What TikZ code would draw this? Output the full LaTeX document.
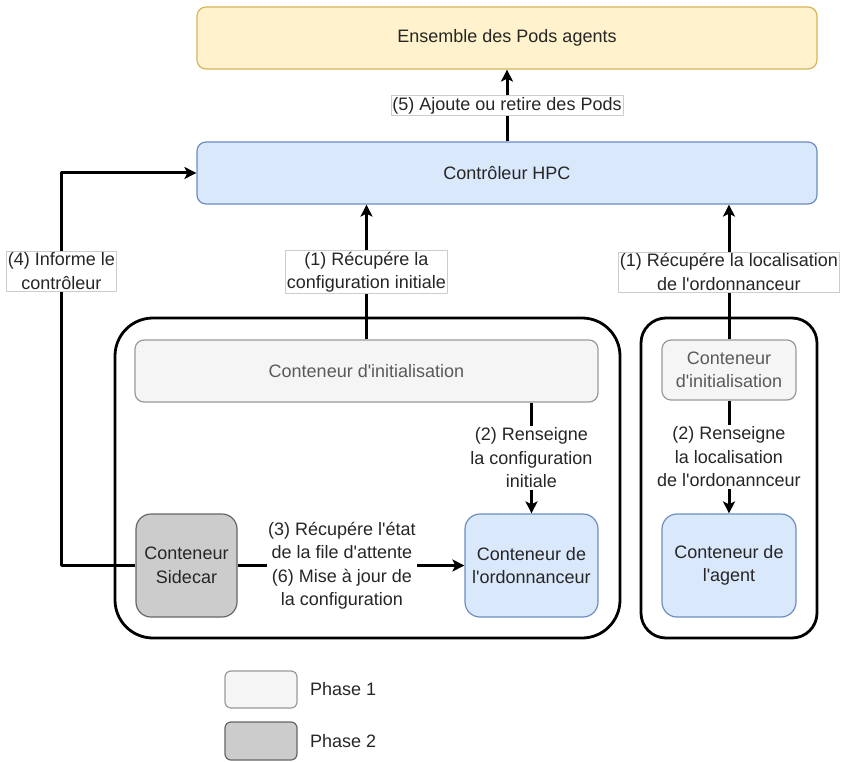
\documentclass[tikz,border=0pt]{standalone}
\usepackage{fontspec}
\setmainfont{Liberation Sans}[Ligatures=TeXOff]
\usetikzlibrary{arrows.meta, positioning, calc}

\definecolor{podfill}{HTML}{FFF2CC}
\definecolor{podline}{HTML}{D6B656}
\definecolor{ctlfill}{HTML}{DAE8FC}
\definecolor{ctlline}{HTML}{6C8EBF}
\definecolor{initfill}{HTML}{F5F5F5}
\definecolor{initline}{HTML}{999999}
\definecolor{inittext}{HTML}{5A5A5A}
\definecolor{sidefill}{HTML}{CCCCCC}
\definecolor{sideline}{HTML}{666666}

\begin{document}
\begin{tikzpicture}[x=1pt, y=-1pt, line join=round,
    >={Stealth[length=12pt, width=12pt, inset=3pt]},
    font=\fontsize{18}{23.5}\selectfont,
    box/.style={draw, line width=1.2pt, rounded corners=9pt, align=center, inner sep=0pt, text=black!85},
    podbox/.style={box, draw=podline, fill=podfill},
    ctlbox/.style={box, draw=ctlline, fill=ctlfill},
    initbox/.style={box, draw=initline, fill=initfill, text=inittext},
    sidebox/.style={box, draw=sideline, fill=sidefill},
    podframe/.style={draw, line width=2.8pt},
    flow/.style={->, line width=3pt},
    tag/.style={fill=white, align=center, inner sep=1.5pt, text=black!85},
    tagbox/.style={tag, draw=black!20, line width=0.6pt}]

    \useasboundingbox (0,0) rectangle (843,762);

    % pods agents et controleur
    \node[podbox, minimum width=620, minimum height=62] (pods) at (507,38) {Ensemble des Pods agents};
    \node[ctlbox, minimum width=620, minimum height=62] (hpc) at (507,173) {Contrôleur HPC};

    % pod de l'ordonnanceur
    \node[podframe, rounded corners=38pt, minimum width=505, minimum height=320] (podA) at (367.5,478) {};
    \node[initbox, minimum width=463, minimum height=62] (initA) at (366.5,371) {Conteneur d'initialisation};
    \node[sidebox, rounded corners=15pt, minimum width=101, minimum height=103] (sidecar) at (186.5,565.5) {Conteneur\\Sidecar};
    \node[ctlbox, rounded corners=15pt, minimum width=133, minimum height=103] (sched) at (531.5,565.5) {Conteneur de\\l'ordonnanceur};

    % pod agent
    \node[podframe, rounded corners=25pt, minimum width=176, minimum height=320] (podB) at (729,478) {};
    \node[initbox, minimum width=134, minimum height=60] (initB) at (729,370) {Conteneur\\d'initialisation};
    \node[ctlbox, rounded corners=15pt, minimum width=134, minimum height=103] (agent) at (729,565.5) {Conteneur de\\l'agent};

    \draw[flow] (hpc.north) -- (pods.south) node[midway, tagbox] {(5) Ajoute ou retire des Pods};
    \draw[flow] (initA.north) -- (initA.north |- hpc.south) node[midway, tagbox] {(1) Récupére la\\configuration initiale};
    \draw[flow] (initB.north) -- (initB.north |- hpc.south) node[midway, tagbox] {(1) Récupére la localisation\\de l'ordonnanceur};
    \draw[flow] (sched.north |- initA.south) -- (sched.north) node[midway, tag] {(2) Renseigne\\la configuration\\initiale};
    \draw[flow] (initB.south) -- (agent.north) node[midway, tag] {(2) Renseigne\\la localisation\\de l'ordonannceur};
    \draw[flow] (sidecar.east) -- (sched.west) node[pos=0.46, tag] {(3) Récupére l'état\\de la file d'attente\\(6) Mise à jour de\\la configuration};
    \draw[flow] (sidecar.west) -- ++(-74,0) coordinate (bend) |- (hpc.west);
    \node[tagbox] (inform) at (bend |- 0,271) {(4) Informe le\\contrôleur};

    % legende
    \node[initbox, rounded corners=6pt, minimum width=72, minimum height=37] (phase1) at (261,689.5) {};
    \node[sidebox, rounded corners=6pt, minimum width=72, minimum height=38] (phase2) at (261,741) {};
    \node[right=9pt of phase1, text=black!85] (phase1txt) {Phase 1};
    \node[right=9pt of phase2, text=black!85] (phase2txt) {Phase 2};
\end{tikzpicture}
\end{document}
